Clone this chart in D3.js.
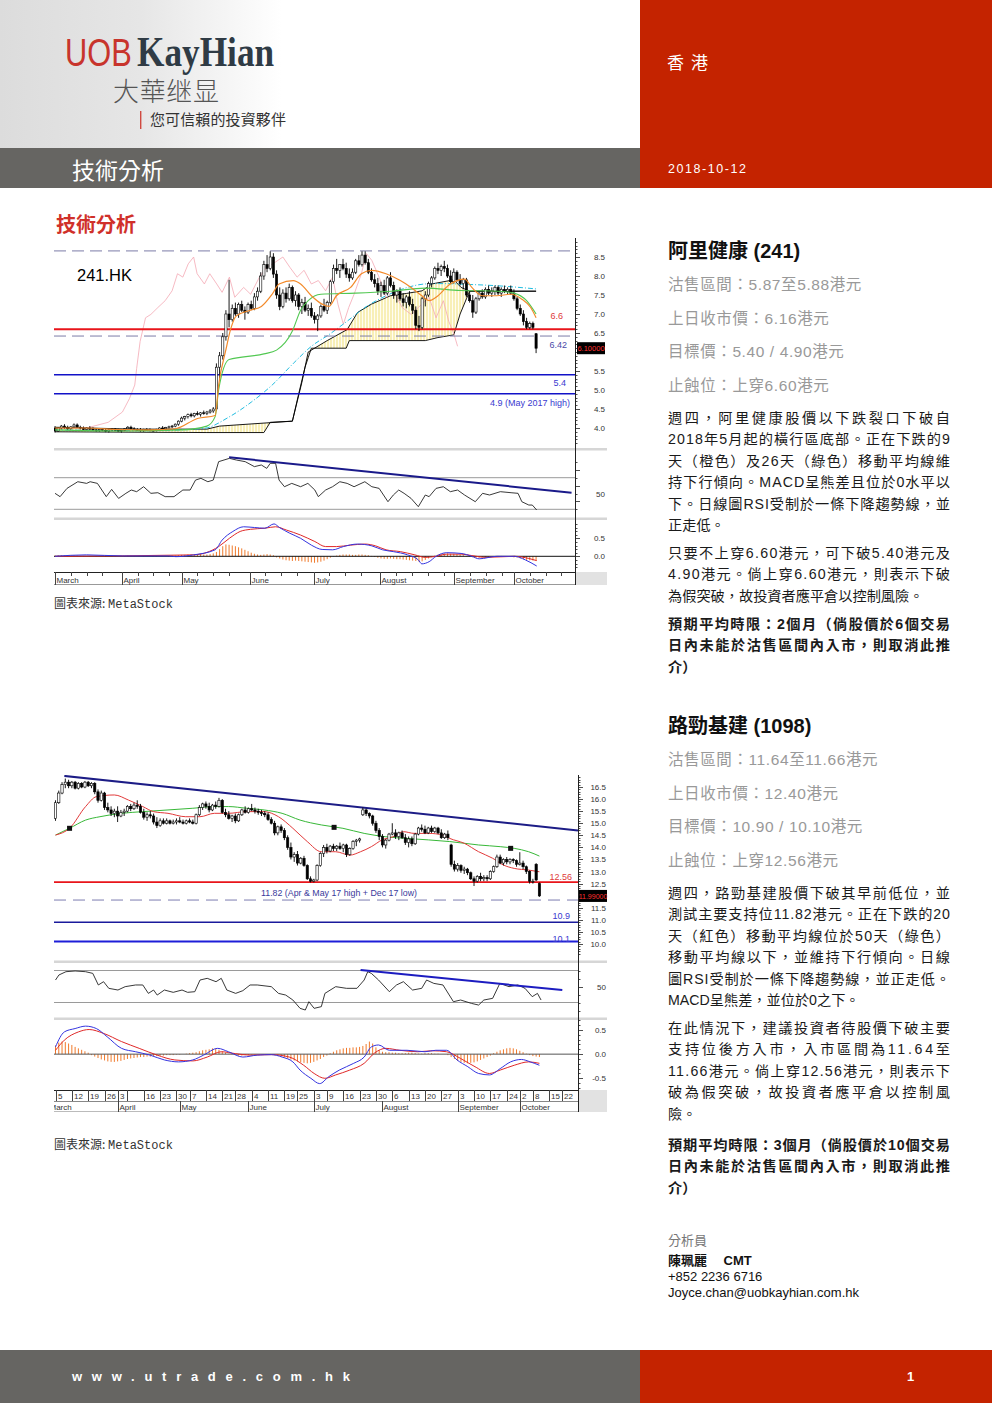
<!DOCTYPE html>
<html>
<head>
<meta charset="utf-8">
<title>技術分析 2018-10-12</title>
<script src="https://cdn.jsdelivr.net/npm/d3@7"></script>
<style>
  body { margin: 0; background: #fff; }
  #page { width: 992px; height: 1403px; position: relative; overflow: hidden; }
  text { font-family: "Liberation Sans", "Noto Sans CJK TC", sans-serif; }
  .ax { font-size: 8px; fill: #333; }
</style>
</head>
<body>
<div id="page"></div>
<script>
// ---------------- 241.HK (阿里健康) ----------------
// candles: [open, high, low, close], one per trading day from early March
const candles241 = [
 [4.00,4.05,3.88,3.92],[3.92,4.02,3.90,4.00],[4.00,4.08,3.96,4.05],[4.05,4.10,3.98,4.02],[4.02,4.06,3.95,3.98],
 [3.98,4.05,3.95,4.03],[4.03,4.12,4.00,4.08],[4.08,4.12,4.00,4.02],[4.02,4.06,3.96,4.00],[4.00,4.04,3.94,3.96],
 [3.96,4.02,3.93,4.00],[4.00,4.05,3.95,3.97],[3.97,4.02,3.92,3.95],[3.95,3.99,3.90,3.93],[3.93,3.98,3.90,3.96],
 [3.96,4.00,3.92,3.94],[3.94,3.98,3.89,3.92],[3.92,3.97,3.88,3.95],[3.95,4.00,3.92,3.97],[3.97,4.00,3.93,3.94],
 [3.94,3.98,3.90,3.92],[3.92,3.96,3.88,3.94],[3.94,4.00,3.92,3.98],[3.98,4.05,3.95,4.02],[4.02,4.06,3.96,3.98],
 [3.98,4.02,3.94,3.96],[3.96,4.00,3.92,3.95],[3.95,4.00,3.90,3.93],[3.93,3.98,3.90,3.96],[3.96,4.00,3.93,3.95],
 [3.95,3.99,3.91,3.93],[3.93,3.97,3.90,3.94],[3.94,3.98,3.91,3.96],[3.96,4.02,3.94,4.00],[4.00,4.05,3.97,3.98],
 [3.98,4.03,3.95,4.01],[4.01,4.06,3.98,4.03],[4.03,4.08,4.00,4.05],[4.05,4.12,4.02,4.10],[4.10,4.20,4.06,4.18],
 [4.18,4.30,4.15,4.26],[4.26,4.32,4.20,4.30],[4.30,4.38,4.25,4.35],[4.35,4.40,4.28,4.32],[4.32,4.40,4.28,4.38],
 [4.38,4.44,4.33,4.36],[4.36,4.42,4.30,4.40],[4.40,4.46,4.35,4.38],[4.38,4.45,4.34,4.42],[4.42,4.50,4.38,4.45],
 [4.45,4.55,4.40,4.50],[4.50,5.70,4.45,5.60],[5.60,6.00,5.30,5.90],[5.90,6.50,5.80,6.40],[6.40,7.10,6.30,7.00],
 [7.00,7.90,6.65,6.85],[6.85,7.25,6.80,7.15],[7.15,7.30,6.95,7.00],[7.00,7.30,6.90,7.25],[7.25,7.35,7.05,7.10],
 [7.10,7.20,6.85,7.05],[7.05,7.30,7.00,7.25],[7.25,7.35,7.10,7.15],[7.15,7.55,7.10,7.45],[7.45,7.70,7.35,7.60],
 [7.60,8.10,7.55,8.00],[8.00,8.40,7.90,8.30],[8.30,8.55,8.10,8.20],[8.20,8.65,8.15,8.50],[8.50,8.60,7.95,8.05],
 [8.05,8.15,7.40,7.50],[7.50,7.70,7.10,7.20],[7.20,7.65,7.15,7.55],[7.55,7.70,7.30,7.40],[7.40,7.80,7.35,7.70],
 [7.70,7.75,7.30,7.35],[7.35,7.60,7.20,7.50],[7.50,7.55,7.10,7.20],[7.20,7.40,7.00,7.30],[7.30,7.45,7.05,7.10],
 [7.10,7.25,6.95,7.15],[7.15,7.30,6.90,6.95],[6.95,7.05,6.75,6.85],[6.85,7.00,6.55,6.95],[6.95,7.25,6.90,7.20],
 [7.20,7.40,7.05,7.10],[7.10,7.35,7.00,7.30],[7.30,7.90,7.25,7.85],[7.85,8.30,7.80,8.20],[8.20,8.45,8.05,8.15],
 [8.15,8.30,7.95,8.30],[8.30,8.45,8.15,8.20],[8.20,8.35,7.95,8.05],[8.05,8.20,7.85,7.95],[7.95,8.20,7.90,8.10],
 [8.10,8.45,8.05,8.40],[8.40,8.55,8.25,8.30],[8.30,8.65,8.25,8.55],[8.55,8.65,8.30,8.35],[8.35,8.45,8.05,8.10],
 [8.10,8.20,7.85,7.90],[7.90,8.05,7.70,7.80],[7.80,7.95,7.50,7.60],[7.60,7.85,7.45,7.75],[7.75,7.90,7.50,7.55],
 [7.55,8.00,7.50,7.95],[7.95,8.10,7.70,7.75],[7.75,7.85,7.40,7.50],[7.50,7.65,7.30,7.60],[7.60,7.70,7.35,7.40],
 [7.40,7.55,7.20,7.30],[7.30,7.50,7.15,7.45],[7.45,7.60,7.20,7.25],[7.25,7.40,7.00,7.10],[7.10,7.20,6.60,6.70],
 [6.70,6.95,6.55,6.65],[6.65,7.45,6.60,7.40],[7.40,7.60,7.20,7.50],[7.50,7.85,7.45,7.80],[7.80,8.00,7.70,7.95],
 [7.95,8.25,7.90,8.20],[8.20,8.35,8.05,8.15],[8.15,8.30,8.00,8.25],[8.25,8.40,8.10,8.20],[8.20,8.30,7.95,8.00],
 [8.00,8.15,7.80,7.85],[7.85,8.20,7.80,8.10],[8.10,8.15,7.85,7.90],[7.90,8.05,7.75,7.80],[7.80,7.95,7.65,7.90],
 [7.90,7.95,7.45,7.50],[7.50,7.60,7.30,7.35],[7.35,7.50,6.90,7.05],[7.05,7.45,7.00,7.40],[7.40,7.60,7.35,7.55],
 [7.55,7.65,7.40,7.45],[7.45,7.70,7.40,7.65],[7.65,7.75,7.50,7.55],[7.55,7.70,7.45,7.60],[7.60,7.75,7.50,7.70],
 [7.70,7.75,7.50,7.55],[7.55,7.70,7.45,7.65],[7.65,7.75,7.55,7.60],[7.60,7.70,7.50,7.65],[7.65,7.75,7.50,7.55],
 [7.55,7.65,7.35,7.40],[7.40,7.45,7.10,7.15],[7.15,7.25,6.95,7.00],[7.00,7.10,6.70,6.80],[6.80,6.90,6.60,6.65],
 [6.65,6.80,6.60,6.75],[6.75,6.80,6.60,6.65],[6.48,6.50,5.97,6.10]
];
// [day index, value] readings of the overlay lines
const ma9_241 = [[0,4.0],[10,4.0],[20,3.96],[30,3.95],[38,3.98],[45,4.25],[50.6,4.33],[51.7,5.13],[54,6.06],[55.5,6.6],[57.3,6.95],[61.8,7.1],[65.2,7.2],[68.6,7.52],[70.8,7.79],[75.3,7.88],[77.6,7.79],[81,7.48],[84.4,7.26],[86.6,7.2],[88.9,7.48],[93.4,7.7],[96.8,8.06],[100,8.15],[104.6,8.06],[109.1,7.88],[112.5,7.7],[115.9,7.48],[118.2,7.35],[120.4,7.44],[124.9,7.79],[129.4,7.92],[131.7,7.7],[135,7.48],[139.6,7.48],[144,7.52],[147.5,7.39],[150.3,7.17],[152,6.9]];
const ma26_241 = [[0,3.95],[20,3.92],[40,3.95],[48,4.05],[50.6,4.3],[51.7,5.0],[55,5.8],[66,5.95],[70,6.05],[75,6.55],[77.6,7.1],[80,7.35],[84,7.52],[95,7.55],[106,7.6],[117,7.68],[128,7.62],[140,7.6],[145,7.55],[149,7.35],[152,7.0]];
const cloudTop241 = [[0,4.02],[25,3.97],[48,3.97],[52,4.05],[75,4.18],[78,5.2],[80,6.0],[86,6.3],[92.3,6.59],[95.6,7.04],[100,7.26],[106,7.48],[111,7.54],[116,7.61],[119,7.79],[126,7.9],[128.3,7.7],[131,7.6],[152,7.6]];
const cloudBot241 = [[0,3.9],[48,3.88],[66,3.88],[68,4.15],[75,4.18],[77,4.9],[79,5.6],[80,5.85],[81,6.1],[92,6.1],[93,6.3],[117,6.3],[121,6.38],[126,6.45],[128,7.0],[130,7.4],[131,7.6],[152,7.6]];
const lag241 = [[0,3.98],[10,4.0],[16.8,4.15],[21.3,4.42],[23.5,4.77],[25.2,5.13],[25.8,5.57],[26.9,6.28],[28.6,6.9],[30.3,6.99],[32.5,7.17],[34.8,7.35],[37,7.61],[38.7,8.06],[40.4,7.97],[42.1,8.32],[43.8,8.5],[44.9,8.06],[47.2,7.79],[48.9,8.06],[51.1,7.79],[52.8,7.57],[55.1,7.97],[56.8,7.44],[59.6,7.7],[61.8,7.52],[64.6,7.97],[66.9,8.23],[69.7,8.37],[72,8.5],[74.2,8.23],[76.5,7.97],[78.7,8.15],[81,7.79],[83.2,7.88],[85.5,7.61],[87.7,7.97],[89.4,7.26],[91.1,6.73],[92.8,7.17],[94.5,7.52],[96.8,8.06],[98.4,8.59],[100.1,8.41],[102.4,7.97],[104.6,7.44],[106.9,7.61],[109.7,7.17],[112.5,6.99],[115.9,7.26],[118.2,7.44],[120.4,6.9],[122.7,7.35],[124.4,6.81],[126.1,6.46],[127.2,6.15]];
const long241 = [[0,3.95],[30,3.93],[47,3.99],[55,4.29],[62,4.68],[68.6,5.13],[75.3,5.7],[81,6.15],[86.6,6.46],[92.3,6.81],[97.9,7.17],[104.6,7.48],[111.4,7.7],[117,7.79],[122.7,7.8],[130,7.78],[138.4,7.75],[152,7.66]];
const levels241 = [8.66, 6.6, 6.42, 5.4, 4.9];
const levelText241 = ['', '6.6', '6.42', '5.4', '4.9 (May 2017 high)'];
const lastPrice241 = '6.10000';
const rsi241 = [[0,50.2],[1.6,46],[3.8,56.5],[7.2,64.9],[10,62.8],[11.1,64.9],[13.4,62.8],[16.2,46],[17.9,55.2],[20.1,43.8],[22.4,50.2],[24.1,54.4],[25.8,52.3],[28,58.6],[30.3,50.2],[32.5,51],[34.8,46],[37.6,46],[40.4,54.4],[42.7,54.4],[44.4,67],[46.1,69.2],[48.3,64.9],[50,67],[51.7,90.3],[55.1,94.5],[57.3,92.4],[60.1,90.3],[63,84],[65.2,86.1],[66.9,81.8],[68,88.2],[69.7,88.2],[70.8,67],[72.5,58.6],[74.8,62.8],[77.6,58.6],[79.9,62.8],[82.1,54.4],[83.2,46],[85.5,54.4],[87.7,58.6],[90,64.9],[92.3,62.8],[94.5,58.6],[97.9,64.9],[100.1,58.6],[102.4,56.5],[105.2,39.6],[106.9,48.1],[108.6,54.4],[110.3,50.2],[112.5,43.8],[114.8,33.3],[117,48.1],[118.2,46],[120.4,56.5],[122.7,58.6],[124.9,52.3],[127.2,54.4],[129.4,48.1],[132.8,39.6],[135.1,50.2],[137.3,48.1],[140.7,52.3],[144.1,51],[146.3,50.2],[147.5,39.6],[149.7,35.4],[150.8,35.4],[152.2,29.1]];
const rsiTrend241 = [[55,95.8],[163.2,51]];
const macd241 = [[0,0],[10,0.04],[21.3,0.01],[35.9,0.01],[38.2,-0.01],[43.8,0.04],[50.6,0.18],[52.8,0.45],[56.2,0.69],[59.6,0.82],[63,0.8],[66.3,0.78],[69.2,0.9],[70.9,0.8],[74.2,0.64],[77.6,0.5],[81,0.31],[84.4,0.19],[87.7,0.18],[91.1,0.27],[95.6,0.34],[100.1,0.29],[103.5,0.18],[106.9,0.13],[111.4,0.04],[114.8,-0.1],[115.9,-0.21],[118.2,-0.15],[120.4,0],[123.8,0.1],[128.3,0.08],[131.7,0],[134,-0.07],[139.6,0],[145.2,0],[148.6,-0.1],[152.2,-0.27]];
const signal241 = [[0,0],[43.8,0.04],[51.7,0.27],[55.1,0.5],[58.5,0.69],[61.8,0.75],[66.3,0.78],[69.7,0.82],[73.1,0.73],[77.6,0.59],[82.1,0.41],[85.5,0.27],[88.9,0.27],[93.4,0.31],[97.9,0.34],[101.3,0.29],[104.6,0.18],[109.1,0.13],[113.7,0.04],[117,-0.03],[120.4,0],[123.8,0.06],[128.3,0.06],[131.7,0.02],[136.2,-0.03],[145.2,0],[149.7,-0.06],[152.2,-0.12]];
const hist241 = [
 0.02,0.03,0.03,0.02,0.02,0.01,0.02,0.02,0.01,0.01,0.0,
 -0.01,0,0.01,0,0,-0.01,0,0.01,0.01,0,0,0.01,0.02,0.02,0.01,0,0,-0.01,0,0,0.01,0.01,0,0,0,0.01,0.02,
 0.02,0.03,0.04,0.04,0.05,0.05,0.05,0.06,0.06,0.05,0.05,0.06,0.08,
 0.12,0.2,0.28,0.33,0.32,0.3,0.28,0.25,0.22,0.18,
 0.14,0.1,0.07,0.05,0.04,0.05,0.06,0.05,0.03,
 -0.03,-0.06,-0.09,-0.11,-0.12,-0.13,-0.12,-0.13,-0.14,-0.15,-0.16,-0.17,-0.18,-0.17,-0.15,-0.12,-0.08,-0.04,-0.01,
 0.02,0.04,0.05,0.05,0.05,0.04,0.04,0.05,0.05,0.04,0.03,0.01,
 -0.02,-0.04,-0.06,-0.07,-0.07,-0.06,-0.07,-0.08,-0.08,-0.09,-0.1,-0.11,-0.12,-0.13,-0.15,-0.14,-0.1,-0.06,
 -0.02,0.02,0.05,0.07,0.08,0.08,0.07,0.07,0.06,0.05,0.03,0.01,-0.01,
 -0.03,-0.04,-0.04,-0.03,-0.02,-0.02,-0.01,-0.01,0.01,0.01,0,-0.01,-0.02,-0.03,
 -0.04,-0.06,-0.08,-0.1,-0.11,-0.12,-0.12
];
const months241 = [[0,'March'],[21.1,'April'],[40,'May'],[61.5,'June'],[81.7,'July'],[102.8,'August'],[126.2,'September'],[145,'October']];

// ---------------- 1098.HK (路勁基建) ----------------
const candles1098 = [
 [15.2,15.95,15.1,15.85],[15.85,16.35,15.8,16.25],[16.25,16.7,16.2,16.6],[16.6,16.85,16.45,16.7],[16.7,16.8,16.45,16.55],
 [16.55,16.75,16.45,16.7],[16.7,16.75,16.4,16.45],[16.45,16.7,16.4,16.65],[16.65,16.7,16.45,16.5],[16.5,16.75,16.45,16.7],
 [16.7,16.75,16.5,16.55],[16.55,16.7,16.45,16.65],[16.65,16.7,16.2,16.3],[16.3,16.4,15.85,15.95],[15.95,16.35,15.9,16.25],
 [16.25,16.3,15.55,15.65],[15.65,15.85,15.45,15.55],[15.55,15.7,15.3,15.4],[15.4,15.6,15.25,15.5],[15.5,15.7,15.05,15.3],
 [15.3,15.55,15.25,15.45],[15.45,15.6,15.3,15.5],[15.5,15.75,15.45,15.7],[15.7,15.8,15.5,15.6],[15.6,15.85,15.55,15.75],
 [15.75,15.95,15.6,15.7],[15.7,15.8,15.4,15.45],[15.45,15.6,15.15,15.25],[15.25,15.45,15.1,15.35],[15.35,15.5,15.2,15.3],
 [15.3,15.4,14.95,15.05],[15.05,15.25,14.8,14.9],[14.9,15.2,14.85,15.1],[15.1,15.2,14.95,15.0],[15.0,15.2,14.95,15.1],
 [15.1,15.15,14.95,15.0],[15.0,15.15,14.95,15.05],[15.05,15.2,14.95,15.1],[15.1,15.25,15.0,15.05],[15.05,15.15,14.95,15.0],
 [15.0,15.15,14.95,15.1],[15.1,15.2,15.0,15.05],[15.05,15.15,14.95,15.0],[15.0,15.4,14.95,15.35],[15.35,15.75,15.3,15.65],
 [15.65,15.85,15.55,15.8],[15.8,15.9,15.6,15.7],[15.7,15.85,15.45,15.55],[15.55,15.8,15.5,15.75],[15.75,15.9,15.6,15.7],
 [15.7,16.05,15.65,15.95],[15.95,16.0,15.4,15.45],[15.45,15.6,15.25,15.35],[15.35,15.5,15.15,15.2],[15.2,15.35,15.05,15.3],
 [15.3,15.4,15.0,15.1],[15.1,15.4,15.05,15.35],[15.35,15.6,15.3,15.55],[15.55,15.7,15.4,15.45],[15.45,15.65,15.4,15.6],
 [15.6,15.8,15.5,15.55],[15.55,15.65,15.4,15.5],[15.5,15.6,15.35,15.45],[15.45,15.55,15.3,15.4],[15.4,15.5,15.25,15.35],
 [15.35,15.45,15.1,15.15],[15.15,15.25,14.95,15.0],[15.0,15.1,14.5,14.6],[14.6,14.9,14.5,14.85],[14.85,14.95,14.6,14.7],
 [14.7,14.8,14.3,14.4],[14.4,14.5,13.9,14.0],[14.0,14.2,13.5,13.6],[13.6,13.8,13.4,13.7],[13.7,13.85,13.25,13.35],
 [13.35,13.6,13.3,13.55],[13.55,13.65,13.2,13.25],[13.25,13.3,12.65,12.7],[12.7,12.8,12.55,12.6],[12.6,12.7,12.55,12.65],
 [12.65,13.3,12.6,13.25],[13.25,13.8,13.2,13.75],[13.75,14.1,13.6,14.0],[14.0,14.15,13.75,13.85],[13.85,14.1,13.8,14.05],
 [14.05,14.15,13.85,13.95],[13.95,14.1,13.85,14.05],[14.05,14.2,13.9,13.95],[13.95,14.15,13.8,14.1],[14.1,14.15,13.6,13.7],
 [13.7,14.0,13.65,13.95],[13.95,14.3,13.9,14.25],[14.25,14.35,14.05,14.3],[14.3,14.4,14.2,14.35],[15.35,15.65,15.3,15.55],
 [15.55,15.6,15.3,15.4],[15.4,15.45,15.2,15.3],[15.3,15.35,14.9,15.0],[15.0,15.1,14.6,14.7],[14.7,14.8,14.3,14.45],
 [14.45,14.55,14.0,14.1],[14.1,14.35,13.95,14.3],[14.3,14.6,14.25,14.55],[14.55,15.0,14.5,14.6],[14.6,14.75,14.35,14.45],
 [14.45,14.65,14.3,14.6],[14.6,14.7,14.35,14.4],[14.4,14.55,14.1,14.2],[14.2,14.45,14.0,14.35],[14.35,14.45,14.05,14.15],
 [14.15,14.6,14.1,14.55],[14.55,14.85,14.5,14.8],[14.8,14.95,14.65,14.75],[14.75,14.9,14.55,14.6],[14.6,14.85,14.55,14.8],
 [14.8,14.9,14.6,14.65],[14.65,14.85,14.6,14.8],[14.8,14.85,14.55,14.6],[14.6,14.75,14.35,14.4],[14.4,14.6,14.35,14.55],
 [14.55,14.7,14.3,14.4],[14.1,14.15,13.2,13.3],[13.3,13.45,13.0,13.1],[13.1,13.35,13.0,13.25],[13.25,13.3,12.95,13.05],
 [13.05,13.2,12.9,13.1],[13.1,13.15,12.85,12.95],[12.95,13.0,12.65,12.7],[12.7,12.8,12.4,12.6],[12.6,12.85,12.55,12.8],
 [12.8,12.95,12.6,12.7],[12.7,12.85,12.6,12.75],[12.75,12.85,12.6,12.7],[12.7,13.05,12.65,13.0],[13.0,13.25,12.95,13.2],
 [13.2,13.7,13.15,13.6],[13.6,13.7,13.3,13.35],[13.35,13.55,13.25,13.5],[13.5,13.6,13.3,13.4],[13.4,13.55,13.3,13.5],
 [13.5,13.55,13.35,13.45],[13.45,13.5,13.2,13.3],[13.3,13.8,13.25,13.35],[13.35,13.45,13.1,13.2],[13.2,13.25,12.9,13.0],
 [13.0,13.05,12.5,12.6],[12.6,12.7,12.5,12.6],[13.3,13.35,12.6,12.65],[12.5,12.55,11.95,11.99]
];
const ma20_1098 = [[0,14.51],[4.3,14.79],[9.2,15.69],[12.5,16.1],[18,16.17],[22.3,15.96],[26.7,15.69],[30,15.48],[34.4,15.41],[39.8,15.27],[44.2,15.27],[48.6,15.41],[52.9,15.41],[58.4,15.48],[63.8,15.48],[68.2,15.27],[72.6,14.79],[77,14.24],[81.3,13.82],[85.7,13.82],[90,13.68],[93.3,13.82],[96.6,14.03],[99.9,14.31],[103.2,14.44],[106.4,14.65],[109.7,14.58],[114.1,14.58],[118.5,14.51],[120.6,14.37],[125,14.17],[129.4,13.82],[133.7,13.55],[137,13.27],[140.3,13.13],[144.7,13.06],[148,12.99]];
const ma50_1098 = [[0,14.51],[4.3,14.79],[9.2,15.13],[13.6,15.27],[20.2,15.41],[26.7,15.48],[34.4,15.55],[42,15.62],[48.6,15.69],[52.9,15.69],[58.4,15.62],[63.8,15.55],[69.3,15.41],[74.8,15.13],[81.3,14.93],[87.9,14.79],[94.4,14.58],[101,14.44],[107.5,14.37],[114.1,14.31],[120.6,14.24],[129.4,14.1],[136,14.03],[140.3,13.96],[144.7,13.82],[148,13.64]];
const marks1098 = [[4.3,14.79],[85.2,14.83],[139.2,13.96]];
const trend1098 = [[2.7,16.96],[159.8,14.7]];
const levels1098 = [12.56, 11.82, 10.9, 10.1];
const levelText1098 = ['12.56', '11.82 (Apr & May 17 high + Dec 17 low)', '10.9', '10.1'];
const lastPrice1098 = '11.99000';
const rsi1098 = [[0,58.1],[1.05,64.4],[3.2,68.5],[6,69.4],[9.2,68.5],[11.4,66.4],[13.1,51.9],[14.7,56],[16.3,47.7],[19.1,45.6],[21.3,49.8],[24.5,51.9],[26.7,51.9],[28.4,41.4],[30,45.6],[31.1,39.3],[33.3,45.6],[36,42.7],[38.7,45.6],[40.4,42.7],[42.6,43.5],[44.2,58.1],[46.4,60.2],[49.1,56],[50.7,60.2],[52.4,45.6],[55.1,41.4],[57.3,44.8],[59.5,51.9],[61.7,51.9],[66,49.8],[68.2,41.4],[70.4,39.3],[72.6,33.1],[74.8,22.7],[76.4,20.6],[77.5,31],[79.1,22.7],[81.3,24.8],[82.4,41.4],[85.7,49.8],[89,47.7],[92.2,47.7],[94.4,58.1],[95.5,68.5],[96.6,66.4],[98.8,58.1],[102.1,43.5],[104.3,51.9],[106.4,56],[109.2,45.6],[112,47.7],[113.5,58.1],[115.7,53.9],[118.5,51.9],[121.7,31],[123.9,33.1],[127.2,28.9],[129.4,26.8],[131,33.1],[133.7,35.2],[135.9,53.9],[138.7,49.8],[141.4,51.9],[143.6,47.7],[145.8,37.3],[147.4,41.4],[148.5,33.1]];
const rsiTrend1098 = [[93.3,70.6],[155,45.6]];
const macd1098 = [[0,0.15],[2.7,0.46],[6,0.53],[9.2,0.58],[12.5,0.53],[15.8,0.36],[20.2,0.12],[24.5,0.05],[28.9,-0.02],[33.3,-0.12],[37.6,-0.16],[42,-0.12],[45.3,-0.02],[49.6,0.12],[52.9,0.05],[57.3,-0.06],[61.7,-0.02],[66,-0.01],[69.3,-0.06],[72.6,-0.16],[74.8,-0.33],[78.1,-0.5],[80.8,-0.61],[83.5,-0.47],[86.8,-0.33],[91.2,-0.19],[94.4,-0.06],[96.6,0.15],[98.8,0.19],[102.1,0.08],[107.5,0.08],[113,0.05],[116.3,0.08],[119.6,0.08],[122.8,-0.12],[126.1,-0.26],[129.4,-0.4],[132.7,-0.43],[136,-0.3],[139.2,-0.16],[142.5,-0.11],[145.2,-0.16],[148,-0.23]];
const signal1098 = [[0,0.08],[2.7,0.29],[7,0.46],[10.3,0.51],[14.7,0.43],[20.2,0.26],[25.6,0.12],[31.1,-0.02],[36.5,-0.12],[42,-0.14],[46.4,-0.06],[50.7,0.05],[55.1,0.01],[59.5,-0.02],[66,-0.01],[71.5,-0.06],[75.9,-0.23],[79.1,-0.4],[82.4,-0.5],[85.7,-0.43],[90,-0.33],[94.4,-0.19],[97.7,0.03],[101,0.12],[105.3,0.08],[110.8,0.05],[115.2,0.07],[119.6,0.05],[123.9,-0.09],[128.3,-0.26],[132.7,-0.4],[136,-0.33],[140.3,-0.23],[144.7,-0.16],[148,-0.19]];
const hist1098 = [
 0.18,0.24,0.26,0.25,0.22,0.19,0.15,0.12,0.09,0.06,0.03,
 -0.02,-0.05,-0.08,-0.11,-0.13,-0.15,-0.16,-0.16,-0.15,-0.14,-0.12,-0.1,-0.09,-0.08,-0.07,-0.06,-0.06,-0.05,-0.05,-0.04,-0.04,
 -0.03,-0.03,-0.02,-0.02,-0.02,-0.01,-0.01,0,0.01,0.02,0.03,0.04,
 0.06,0.08,0.09,0.1,0.12,0.11,0.09,0.06,0.03,
 0.01,-0.01,-0.02,-0.03,-0.03,-0.02,-0.02,-0.01,-0.01,0,0,0,0,-0.01,-0.02,-0.03,
 -0.05,-0.07,-0.09,-0.11,-0.13,-0.15,-0.17,-0.18,-0.19,-0.18,-0.16,-0.13,-0.1,-0.06,-0.03,
 0.02,0.05,0.08,0.1,0.12,0.13,0.13,0.14,0.14,0.15,0.17,0.21,0.26,0.22,0.14,
 0.08,0.05,0.04,0.04,0.03,0.03,0.02,0.02,0.02,0.03,0.03,0.02,0.01,0.01,0.02,0.02,0.02,0.01,0.01,0,0,-0.02,
 -0.06,-0.1,-0.14,-0.16,-0.18,-0.19,-0.18,-0.17,-0.15,-0.12,-0.09,-0.06,-0.03,
 0.02,0.05,0.08,0.1,0.12,0.13,0.12,0.1,0.07,0.04,
 0.01,-0.02,-0.04,-0.05,-0.06
];
const weeks1098 = [[0,'5'],[5,'12'],[10,'19'],[15,'26'],[19,'3'],[22,''],[27,'16'],[32,'23'],[37,'30'],[41,'7'],[46,'14'],[51,'21'],[55,'28'],[60,'4'],[65,'11'],[70,'19'],[74,'25'],[79,'3'],[83,'9'],[88,'16'],[93,'23'],[98,'30'],[103,'6'],[108,'13'],[113,'20'],[118,'27'],[123,'3'],[128,'10'],[133,'17'],[138,'24'],[142,'2'],[146,'8'],[151,'15'],[155,'22']];
const months1098 = [[-2.3,'March'],[19,'April'],[38,'May'],[59,'June'],[79,'July'],[100,'August'],[123,'September'],[142,'October']];

// ---------------- page text ----------------
const stock1 = {
  title: '阿里健康 (241)',
  facts: ['沽售區間：5.87至5.88港元', '上日收市價：6.16港元', '目標價：5.40 / 4.90港元', '止蝕位：上穿6.60港元'],
  paras: [
    ['週四，阿里健康股價以下跌裂口下破自', '2018年5月起的橫行區底部。正在下跌的9', '天（橙色）及26天（綠色）移動平均線維', '持下行傾向。MACD呈熊差且位於0水平以', '下。日線圖RSI受制於一條下降趨勢線，並', '正走低。'],
    ['只要不上穿6.60港元，可下破5.40港元及', '4.90港元。倘上穿6.60港元，則表示下破', '為假突破，故投資者應平倉以控制風險。'],
    ['預期平均時限：2個月（倘股價於6個交易', '日內未能於沽售區間內入市，則取消此推', '介）']
  ]
};
const stock2 = {
  title: '路勁基建 (1098)',
  facts: ['沽售區間：11.64至11.66港元', '上日收市價：12.40港元', '目標價：10.90 / 10.10港元', '止蝕位：上穿12.56港元'],
  paras: [
    ['週四，路勁基建股價下破其早前低位，並', '測試主要支持位11.82港元。正在下跌的20', '天（紅色）移動平均線位於50天（綠色）', '移動平均線以下，並維持下行傾向。日線', '圖RSI受制於一條下降趨勢線，並正走低。', 'MACD呈熊差，並位於0之下。'],
    ['在此情況下，建議投資者待股價下破主要', '支持位後方入市，入市區間為11.64至', '11.66港元。倘上穿12.56港元，則表示下', '破為假突破，故投資者應平倉以控制風', '險。'],
    ['預期平均時限：3個月（倘股價於10個交易', '日內未能於沽售區間內入市，則取消此推', '介）']
  ]
};

// ================= drawing =================
const svg = d3.select('#page').append('svg').attr('width', 992).attr('height', 1403);
const defs = svg.append('defs');

// header
const hg = defs.append('linearGradient').attr('id', 'hdrFade');
hg.append('stop').attr('offset', 0).attr('stop-color', '#dcdcdc');
hg.append('stop').attr('offset', 0.22).attr('stop-color', '#e6e6e6');
hg.append('stop').attr('offset', 0.44).attr('stop-color', '#ffffff');
svg.append('rect').attr('width', 640).attr('height', 148).attr('fill', 'url(#hdrFade)');
svg.append('rect').attr('y', 148).attr('width', 640).attr('height', 40).attr('fill', '#666562');
svg.append('rect').attr('x', 640).attr('width', 352).attr('height', 188).attr('fill', '#c42300');

// logo: condensed with a horizontal scale so the boxes stay apart
svg.append('text').attr('transform', 'translate(65,66) scale(0.81,1)').attr('font-size', 38).attr('fill', '#c8342c')
  .text('UOB');
svg.append('text').attr('transform', 'translate(137,66) scale(0.84,1)').attr('font-size', 42).attr('fill', '#2f3b45')
  .style('font-family', '"Liberation Serif", serif').style('font-weight', 'bold').text('KayHian');
svg.append('text').attr('x', 113).attr('y', 101).attr('font-size', 26).attr('fill', '#555')
  .attr('textLength', 106).style('font-family', '"Noto Sans CJK TC"').style('font-weight', 300).text('大華继显');
svg.append('rect').attr('x', 140).attr('y', 111).attr('width', 1.4).attr('height', 18).attr('fill', '#d04a40');
svg.append('text').attr('x', 150).attr('y', 125).attr('font-size', 15).attr('fill', '#333')
  .attr('textLength', 136).text('您可信賴的投資夥伴');
svg.append('text').attr('x', 72).attr('y', 179).attr('font-size', 23).attr('fill', '#fff').text('技術分析');
svg.append('text').attr('x', 667).attr('y', 69).attr('font-size', 17).attr('fill', '#fff')
  .attr('textLength', 41).text('香港');
svg.append('text').attr('x', 668).attr('y', 173).attr('font-size', 12.5).attr('fill', '#fff')
  .attr('textLength', 78).text('2018-10-12');

svg.append('text').attr('x', 56).attr('y', 232).attr('font-size', 20).attr('font-weight', 'bold')
  .attr('fill', '#d0302a').text('技術分析');

// footer
svg.append('rect').attr('y', 1350).attr('width', 640).attr('height', 53).attr('fill', '#666562');
svg.append('rect').attr('x', 640).attr('y', 1350).attr('width', 352).attr('height', 53).attr('fill', '#c42300');
svg.append('text').attr('x', 72).attr('y', 1381).attr('font-size', 13).attr('font-weight', 'bold').attr('fill', '#fff')
  .attr('textLength', 278).attr('lengthAdjust', 'spacing').text('www.utrade.com.hk');
svg.append('text').attr('x', 907).attr('y', 1381).attr('font-size', 13).attr('font-weight', 'bold').attr('fill', '#fff').text('1');

// patterns
const pat = defs.append('pattern').attr('id', 'cloudHatch').attr('patternUnits', 'userSpaceOnUse')
  .attr('width', 3).attr('height', 3);
pat.append('rect').attr('width', 3).attr('height', 3).attr('fill', '#fffdf2');
pat.append('line').attr('x1', 1).attr('x2', 1).attr('y1', 0).attr('y2', 3).attr('stroke', '#f2e27c').attr('stroke-width', 1);

// helpers
function clip(id, x, y, w, h) {
  defs.append('clipPath').attr('id', id).append('rect').attr('x', x).attr('y', y).attr('width', w).attr('height', h);
  return 'url(#' + id + ')';
}
function drawLine(g, pts, x, y, color, w, dash, curve) {
  return g.append('path').datum(pts).attr('fill', 'none').attr('stroke', color).attr('stroke-width', w)
    .attr('stroke-dasharray', dash || null)
    .attr('d', d3.line().x(d => x(d[0])).y(d => y(d[1])).curve(curve || d3.curveMonotoneX));
}
function drawCandles(g, data, x, y, bw) {
  const c = g.selectAll(null).data(data).join('g');
  c.append('line').attr('x1', (d, i) => x(i)).attr('x2', (d, i) => x(i))
    .attr('y1', d => y(d[1])).attr('y2', d => y(d[2])).attr('stroke', '#000').attr('stroke-width', 0.9);
  c.append('rect').attr('x', (d, i) => x(i) - bw / 2).attr('width', bw)
    .attr('y', d => y(Math.max(d[0], d[3])))
    .attr('height', d => Math.max(0.8, Math.abs(y(d[0]) - y(d[3]))))
    .attr('fill', d => d[3] >= d[0] ? '#fff' : '#000').attr('stroke', '#000').attr('stroke-width', 0.6);
}
function drawHist(g, vals, x, y) {
  g.selectAll(null).data(vals).join('line')
    .attr('x1', (d, i) => x(i)).attr('x2', (d, i) => x(i))
    .attr('y1', y(0)).attr('y2', d => y(d)).attr('stroke', '#f07a2c').attr('stroke-width', 1);
}
function rightAxis(g, y, ax, lo, hi, step, major, labels, fmt, labelX) {
  const n = Math.round((hi - lo) / step);
  const ticks = d3.range(n + 1).map(k => lo + k * step);
  const isMajor = d => Math.abs(d / major - Math.round(d / major)) < 1e-6;
  g.selectAll(null).data(ticks).join('line')
    .attr('x1', ax).attr('x2', d => ax + (isMajor(d) ? 5 : 2.5))
    .attr('y1', d => Math.round(y(d)) + 0.5).attr('y2', d => Math.round(y(d)) + 0.5)
    .attr('stroke', '#222').attr('stroke-width', 0.8);
  g.selectAll(null).data(labels).join('text').attr('class', 'ax')
    .attr('x', labelX).attr('y', d => y(d) + 3).attr('text-anchor', 'end').text(fmt);
}
function sepLine(g, yy, x0, x1) {
  g.append('rect').attr('x', x0).attr('y', yy - 1).attr('width', x1 - x0).attr('height', 2.5).attr('fill', '#d6d6d6');
}
function sourceNote(yy) {
  const t = svg.append('text').attr('x', 54).attr('y', yy).attr('font-size', 12).attr('fill', '#333');
  t.append('tspan').style('font-family', '"Noto Sans CJK TC"').text('圖表來源: ');
  t.append('tspan').style('font-family', '"Liberation Mono", monospace').text('MetaStock');
}

// ---------- chart 1 : 241.HK ----------
(function () {
  const g = svg.append('g');
  const L = 54, AX = 575, RX = 607;
  const x = d3.scaleLinear().domain([0, 164]).range([55, 55 + 164 * 3.165]);
  const yP = d3.scaleLinear().domain([4.0, 8.5]).range([428, 257]);
  const yR = d3.scaleLinear().domain([30, 70]).range([509.3, 477.7]);
  const yM = d3.scaleLinear().domain([0, 0.5]).range([556.3, 538.3]);

  const pg = g.append('g').attr('clip-path', clip('c1p', L, 238, AX - L, 208));
  // cloud
  const area = cloudTop241.concat(cloudBot241.slice().reverse());
  pg.append('path').attr('fill', 'url(#cloudHatch)').attr('stroke', 'none')
    .attr('d', d3.line().x(d => x(d[0])).y(d => yP(d[1]))(area) + 'Z');
  drawLine(pg, cloudTop241, x, yP, '#000', 0.9, null, d3.curveLinear);
  drawLine(pg, cloudBot241, x, yP, '#000', 0.9, null, d3.curveLinear);
  drawLine(pg, lag241, x, yP, '#f4a8b4', 0.8, null, d3.curveLinear);
  drawLine(pg, long241, x, yP, '#22bde0', 1, '5,2,1,2');
  // levels
  const lvlStyle = [
    {c: '#7c7ca8', w: 1, d: '12,6'}, {c: '#e8141a', w: 2, d: null}, {c: '#7c7ca8', w: 1, d: '12,6'},
    {c: '#1212c8', w: 1.6, d: null}, {c: '#1212c8', w: 1.6, d: null}
  ];
  levels241.forEach((v, k) => {
    const s = lvlStyle[k];
    pg.append('line').attr('x1', L).attr('x2', AX).attr('y1', yP(v)).attr('y2', yP(v))
      .attr('stroke', s.c).attr('stroke-width', s.w).attr('stroke-dasharray', s.d);
  });
  drawCandles(pg, candles241, x, yP, 2.2);
  drawLine(pg, ma26_241, x, yP, '#52c852', 1.1);
  drawLine(pg, ma9_241, x, yP, '#f38a2a', 1.2);
  const lblColor = ['#000', '#e03a3a', '#4a4aa8', '#3a3ad0', '#3a3ad0'];
  const lblDy = [0, -10, 12, 11, 12];
  const lblEnd = [0, 563, 567, 566, 570];
  levels241.forEach((v, k) => {
    if (!levelText241[k]) return;
    g.append('text').attr('x', lblEnd[k]).attr('y', yP(v) + lblDy[k]).attr('text-anchor', 'end')
      .attr('font-size', 9).attr('fill', lblColor[k]).text(levelText241[k]);
  });
  g.append('text').attr('x', 77).attr('y', 281).attr('font-size', 16.5).attr('fill', '#000').text('241.HK');

  // RSI
  const rg = g.append('g').attr('clip-path', clip('c1r', L, 450, AX - L, 67));
  [70, 30].forEach(v => rg.append('line').attr('x1', L).attr('x2', AX).attr('y1', yR(v)).attr('y2', yR(v))
    .attr('stroke', '#9a9a9a').attr('stroke-width', 1));
  drawLine(rg, rsi241, x, yR, '#222', 0.9, null, d3.curveLinear);
  drawLine(rg, rsiTrend241, x, yR, '#1a1a8a', 2, null, d3.curveLinear);

  // MACD
  const mg = g.append('g').attr('clip-path', clip('c1m', L, 520, AX - L, 52));
  drawHist(mg, hist241, x, yM);
  mg.append('line').attr('x1', L).attr('x2', AX).attr('y1', yM(0)).attr('y2', yM(0)).attr('stroke', '#111').attr('stroke-width', 1);
  drawLine(mg, signal241, x, yM, '#e02828', 1);
  drawLine(mg, macd241, x, yM, '#3434e0', 1);

  // separators, axes
  sepLine(g, 449, L, RX);
  sepLine(g, 518.5, L, RX);
  g.append('rect').attr('x', AX).attr('y', 572).attr('width', RX - AX).attr('height', 13).attr('fill', '#e2e2e2');
  g.append('line').attr('x1', AX + 0.5).attr('x2', AX + 0.5).attr('y1', 238).attr('y2', 585).attr('stroke', '#222');
  const ag = g.append('g');
  rightAxis(ag, yP, AX, 3.6, 8.9, 0.1, 0.5, [4.0, 4.5, 5.0, 5.5, 6.5, 7.0, 7.5, 8.0, 8.5], d => d.toFixed(1), 605);
  rightAxis(ag, yR, AX, 30, 90, 10, 20, [50], d => d, 605);
  rightAxis(ag, yM, AX, -0.3, 0.9, 0.1, 0.5, [0, 0.5], d => d.toFixed(1), 605);
  ag.append('rect').attr('x', 577).attr('y', yP(6.1) - 6).attr('width', 28).attr('height', 12).attr('fill', '#000');
  ag.append('text').attr('x', 591).attr('y', yP(6.1) + 3).attr('text-anchor', 'middle').attr('font-size', 7.5)
    .attr('fill', '#ff3030').text(lastPrice241);

  // date axis
  const dg = g.append('g');
  dg.append('line').attr('x1', L).attr('x2', AX).attr('y1', 572.5).attr('y2', 572.5).attr('stroke', '#222');
  dg.append('line').attr('x1', L).attr('x2', AX).attr('y1', 584.5).attr('y2', 584.5).attr('stroke', '#999');
  months241.forEach((m, k) => {
    const next = k + 1 < months241.length ? months241[k + 1][0] : 164;
    const xm = Math.round(x(m[0])) + 0.5;
    dg.append('line').attr('x1', xm).attr('x2', xm).attr('y1', 572).attr('y2', 585).attr('stroke', '#444');
    dg.append('text').attr('class', 'ax').attr('x', xm + 1).attr('y', 582.5).text(m[1]);
    for (let t = m[0] + 5; t < next - 1.5; t += 5) {
      const xt = Math.round(x(t)) + 0.5;
      dg.append('line').attr('x1', xt).attr('x2', xt).attr('y1', 572).attr('y2', 576).attr('stroke', '#444');
    }
  });
  sourceNote(608);
})();

// ---------- chart 2 : 1098.HK ----------
(function () {
  const g = svg.append('g');
  const L = 54, AX = 578, RX = 607;
  const x = d3.scaleLinear().domain([0, 159.8]).range([55.5, 578]);
  const yP = d3.scaleLinear().domain([10, 16.5]).range([944, 787]);
  const yR = d3.scaleLinear().domain([30, 70]).range([1002.5, 970.5]);
  const yM = d3.scaleLinear().domain([-0.5, 0.5]).range([1078.3, 1030]);

  const pg = g.append('g').attr('clip-path', clip('c2p', L, 775, AX - L, 186));
  const lvlStyle = [
    {c: '#e8141a', w: 1.6, d: null}, {c: '#7c7cb0', w: 1, d: '12,7'},
    {c: '#1a1a9c', w: 1.3, d: null}, {c: '#1e1ed8', w: 2, d: null}
  ];
  levels1098.forEach((v, k) => {
    const s = lvlStyle[k];
    pg.append('line').attr('x1', L).attr('x2', AX).attr('y1', yP(v)).attr('y2', yP(v))
      .attr('stroke', s.c).attr('stroke-width', s.w).attr('stroke-dasharray', s.d);
  });
  drawLine(pg, trend1098, x, yP, '#1c1c86', 2, null, d3.curveLinear);
  drawLine(pg, ma50_1098, x, yP, '#38b838', 1);
  drawLine(pg, ma20_1098, x, yP, '#e23a3a', 1);
  drawCandles(pg, candles1098, x, yP, 2.3);
  pg.selectAll(null).data(marks1098).join('rect')
    .attr('x', d => x(d[0]) - 2.5).attr('y', d => yP(d[1]) - 2.5).attr('width', 5).attr('height', 5).attr('fill', '#111');
  const lblColor = ['#e03a3a', '#3a3a9c', '#3a3ad0', '#3a3ad0'];
  const lblX = [572, 339, 570, 570];
  const lblDy = [-2, -4, -3, 0];
  const lblAnchor = ['end', 'middle', 'end', 'end'];
  levels1098.forEach((v, k) => {
    g.append('text').attr('x', lblX[k]).attr('y', yP(v) + lblDy[k]).attr('text-anchor', lblAnchor[k])
      .attr('font-size', 9).attr('fill', lblColor[k])
      .attr('textLength', k === 1 ? 156 : null).attr('lengthAdjust', 'spacingAndGlyphs')
      .text(levelText1098[k]);
  });

  // RSI
  const rg = g.append('g').attr('clip-path', clip('c2r', L, 962, AX - L, 55));
  [70, 30].forEach(v => rg.append('line').attr('x1', L).attr('x2', AX).attr('y1', yR(v)).attr('y2', yR(v))
    .attr('stroke', '#9a9a9a').attr('stroke-width', 1));
  drawLine(rg, rsi1098, x, yR, '#222', 0.9, null, d3.curveLinear);
  drawLine(rg, rsiTrend1098, x, yR, '#1c1cc0', 2, null, d3.curveLinear);

  // MACD
  const mg = g.append('g').attr('clip-path', clip('c2m', L, 1020, AX - L, 70));
  drawHist(mg, hist1098, x, yM);
  mg.append('line').attr('x1', L).attr('x2', AX).attr('y1', yM(0)).attr('y2', yM(0)).attr('stroke', '#555').attr('stroke-width', 1);
  drawLine(mg, signal1098, x, yM, '#e02828', 1);
  drawLine(mg, macd1098, x, yM, '#3434e0', 1);

  sepLine(g, 961.5, L, RX);
  sepLine(g, 1018.5, L, RX);
  g.append('rect').attr('x', AX).attr('y', 1090).attr('width', RX - AX).attr('height', 22).attr('fill', '#e2e2e2');
  g.append('line').attr('x1', AX + 0.5).attr('x2', AX + 0.5).attr('y1', 775).attr('y2', 1112).attr('stroke', '#222');
  const ag = g.append('g');
  const priceLabels = [10, 10.5, 11, 11.5, 12.5, 13, 13.5, 14, 14.5, 15, 15.5, 16, 16.5];
  rightAxis(ag, yP, AX, 9.6, 16.9, 0.1, 0.5, priceLabels, d => d.toFixed(1), 606);
  rightAxis(ag, yR, AX, 20, 70, 10, 50, [50], d => d, 606);
  rightAxis(ag, yM, AX, -0.7, 0.7, 0.1, 0.5, [-0.5, 0, 0.5], d => d.toFixed(1), 606);
  ag.append('rect').attr('x', 579).attr('y', yP(11.99) - 6).attr('width', 28).attr('height', 12).attr('fill', '#000');
  ag.append('text').attr('x', 593).attr('y', yP(11.99) + 3).attr('text-anchor', 'middle').attr('font-size', 7)
    .attr('fill', '#ff3030').text(lastPrice1098);

  // date axis (week row + month row)
  const dg = g.append('g').attr('clip-path', clip('c2d', L, 1088, AX - L, 26));
  dg.append('line').attr('x1', L).attr('x2', AX).attr('y1', 1090.5).attr('y2', 1090.5).attr('stroke', '#222');
  dg.append('line').attr('x1', L).attr('x2', AX).attr('y1', 1101.5).attr('y2', 1101.5).attr('stroke', '#888');
  dg.append('line').attr('x1', L).attr('x2', AX).attr('y1', 1111.5).attr('y2', 1111.5).attr('stroke', '#bbb');
  weeks1098.forEach(w => {
    const xw = Math.round(x(w[0])) + 0.5;
    dg.append('line').attr('x1', xw).attr('x2', xw).attr('y1', 1090).attr('y2', 1101).attr('stroke', '#444');
    dg.append('text').attr('class', 'ax').attr('x', xw + 1.5).attr('y', 1099).text(w[1]);
  });
  months1098.forEach(m => {
    const xm = Math.round(x(m[0])) + 0.5;
    dg.append('line').attr('x1', xm).attr('x2', xm).attr('y1', 1101).attr('y2', 1112).attr('stroke', '#444');
    dg.append('text').attr('class', 'ax').attr('x', xm + 1).attr('y', 1109.5).text(m[1]);
  });
  sourceNote(1149);
})();

// ---------- right column text ----------
function stockBlock(s, titleY, factY, paraY) {
  const X = 668, WIDTH = 282, LH = 21.4;
  svg.append('text').attr('x', X).attr('y', titleY).attr('font-size', 20).attr('font-weight', 'bold')
    .attr('fill', '#111').text(s.title);
  s.facts.forEach((f, k) => svg.append('text').attr('x', X).attr('y', factY + k * 33.7)
    .attr('font-size', 15.5).attr('fill', '#999').style('letter-spacing', '0.6px').text(f));
  s.paras.forEach((p, pi) => {
    p.forEach((ln, k) => {
      const t = svg.append('text').attr('x', X).attr('y', paraY[pi] + k * LH).attr('font-size', 14.2)
        .attr('fill', '#1a1a1a').attr('font-weight', pi === 2 ? 'bold' : 'normal').text(ln);
      if (k < p.length - 1) t.attr('textLength', WIDTH).attr('lengthAdjust', 'spacing');
    });
  });
}
stockBlock(stock1, 258, 290, [423, 558, 629]);
stockBlock(stock2, 733, 765, [898, 1033, 1150]);

svg.append('text').attr('x', 668).attr('y', 1245).attr('font-size', 13).attr('fill', '#777').text('分析員');
svg.append('text').attr('x', 668).attr('y', 1265).attr('font-size', 13).attr('font-weight', 'bold').attr('fill', '#111')
  .text('陳珮麗\u3000 CMT');
svg.append('text').attr('x', 668).attr('y', 1281).attr('font-size', 13).attr('fill', '#111').text('+852 2236 6716');
svg.append('text').attr('x', 668).attr('y', 1297).attr('font-size', 13).attr('fill', '#111').text('Joyce.chan@uobkayhian.com.hk');
</script>
</body>
</html>
